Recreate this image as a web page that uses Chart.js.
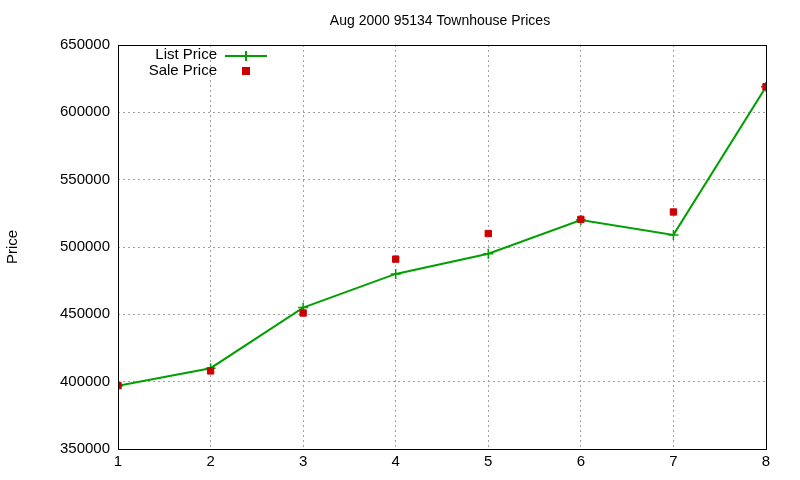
<!DOCTYPE html>
<html>
<head>
<meta charset="utf-8">
<script src="https://cdn.jsdelivr.net/npm/chart.js@4"></script>
<style>
  html, body { margin: 0; background: #fff; }
  #wrap { width: 800px; height: 480px; }
</style>
</head>
<body>
<div id="wrap"><canvas id="chart"></canvas></div>
<script>
const months = [1, 2, 3, 4, 5, 6, 7, 8];
const listPrice = [397000, 410000, 455000, 480000, 495000, 520000, 509000, 619000];
const salePrice = [397000, 408000, 451000, 491000, 510000, 520500, 526000, 619000];
const chartTitle = 'Aug 2000 95134 Townhouse Prices';

const font = { family: 'Liberation Sans, Arial, sans-serif', size: 15 };

// gnuplot-style frame, title and legend
const frame = {
  id: 'frame',
  afterDraw(c) {
    const { ctx, chartArea: a } = c;
    ctx.save();
    ctx.strokeStyle = '#000';
    ctx.lineWidth = 1;
    ctx.strokeRect(a.left + 0.5, a.top + 0.5, a.right - a.left, a.bottom - a.top);
    ctx.fillStyle = '#000';
    ctx.font = '14px ' + font.family;
    ctx.textAlign = 'center';
    ctx.textBaseline = 'middle';
    ctx.fillText(chartTitle, 440, 21);
    ctx.font = '15px ' + font.family;
    ctx.textAlign = 'right';
    ctx.fillText('List Price', 217, 55);
    ctx.fillText('Sale Price', 217, 71);
    ctx.strokeStyle = '#00a000';
    ctx.lineWidth = 2;
    ctx.beginPath();
    ctx.moveTo(225, 56); ctx.lineTo(267, 56);
    ctx.moveTo(246, 51); ctx.lineTo(246, 61);
    ctx.stroke();
    ctx.fillStyle = '#cc0000';
    ctx.fillRect(242, 67, 8, 8);
    ctx.restore();
  }
};

new Chart(document.getElementById('chart'), {
  type: 'line',
  data: {
    labels: months,
    datasets: [
      {
        label: 'List Price',
        data: months.map((m, i) => ({ x: m, y: listPrice[i] })),
        borderColor: '#00a000',
        backgroundColor: '#00a000',
        borderWidth: 2,
        pointStyle: 'cross',
        pointRadius: 5,
        pointBorderWidth: 1.5,
        tension: 0,
        order: 2
      },
      {
        label: 'Sale Price',
        data: months.map((m, i) => ({ x: m, y: salePrice[i] })),
        showLine: false,
        borderColor: '#cc0000',
        backgroundColor: '#cc0000',
        pointStyle: 'rect',
        pointRadius: 4.5,
        order: 1
      }
    ]
  },
  options: {
    responsive: true,
    maintainAspectRatio: false,
    animation: false,
    layout: { padding: { top: 45, right: 34, left: 4, bottom: 0 } },
    plugins: { legend: { display: false }, title: { display: false }, tooltip: { enabled: false } },
    scales: {
      x: {
        type: 'linear',
        min: 1,
        max: 8,
        afterFit: s => { s.height = 31; },
        ticks: { stepSize: 1, color: '#000', font, padding: 4 },
        grid: { color: '#a0a0a0', borderDash: [2, 3], drawTicks: false },
        border: { display: false, dash: [2, 3] }
      },
      y: {
        min: 350000,
        max: 650000,
        afterFit: s => { s.width = 114; },
        ticks: { stepSize: 50000, color: '#000', font, padding: 8, callback: v => String(v) },
        grid: { color: '#a0a0a0', drawTicks: false },
        border: { display: false, dash: [2, 3] },
        title: { display: true, text: 'Price', color: '#000', font, padding: { top: 0, bottom: 36 } }
      }
    }
  },
  plugins: [frame]
});
</script>
</body>
</html>
